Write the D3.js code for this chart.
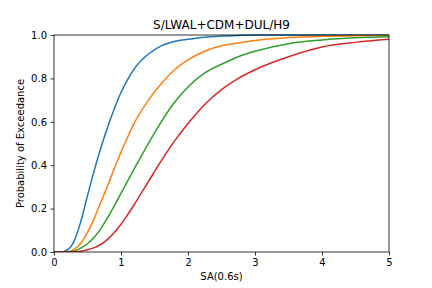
<!DOCTYPE html>
<html>
<head>
<meta charset="utf-8">
<script src="https://cdn.jsdelivr.net/npm/d3@7"></script>
<style>
  body { margin: 0; background: #fff; }
  svg { display: block; font-family: "DejaVu Sans", sans-serif; }
</style>
</head>
<body>
<svg id="chart" width="432" height="288"></svg>
<script>
// SA values (g) at which the curves were read
const sa = [0, 0.1, 0.2, 0.3, 0.4, 0.5, 0.6, 0.7, 0.8, 0.9, 1.0, 1.1, 1.2, 1.4, 1.6, 1.8, 2.0, 2.25, 2.5, 2.75, 3.0, 3.5, 4.0, 4.5, 5.0];

// probability of exceedance, one array per damage state
const ds1 = [0, 0, 0.01, 0.05, 0.14, 0.26, 0.375, 0.48, 0.575, 0.66, 0.735, 0.795, 0.845, 0.91, 0.95, 0.97, 0.98, 0.99, 0.995, 0.998, 1, 1, 1, 1, 1];
const ds2 = [0, 0, 0.001, 0.012, 0.04, 0.09, 0.155, 0.23, 0.305, 0.385, 0.46, 0.53, 0.595, 0.695, 0.775, 0.84, 0.885, 0.925, 0.95, 0.963, 0.975, 0.988, 0.994, 0.997, 0.998];
const ds3 = [0, 0, 0, 0.005, 0.018, 0.038, 0.068, 0.108, 0.158, 0.213, 0.27, 0.328, 0.385, 0.495, 0.6, 0.69, 0.76, 0.825, 0.865, 0.9, 0.925, 0.96, 0.977, 0.987, 0.992];
const ds4 = [0, 0, 0, 0, 0.003, 0.01, 0.02, 0.035, 0.058, 0.09, 0.128, 0.172, 0.22, 0.32, 0.42, 0.512, 0.592, 0.68, 0.748, 0.8, 0.84, 0.9, 0.945, 0.966, 0.98];

const seriesColors = ["#1f77b4", "#ff7f0e", "#2ca02c", "#d62728"];
const xTicks = [0, 1, 2, 3, 4, 5];
const yTicks = [0, 0.2, 0.4, 0.6, 0.8, 1.0];

const margin = { top: 35, right: 43, bottom: 36, left: 54 };
const width = 432, height = 288;

const svg = d3.select("#chart");

const x = d3.scaleLinear().domain([0, 5]).range([margin.left, width - margin.right]);
const y = d3.scaleLinear().domain([0, 1]).range([height - margin.bottom, margin.top]);

// curves
const line = d3.line()
  .x((d, i) => x(sa[i]))
  .y(d => y(d))
  .curve(d3.curveMonotoneX);

const plot = svg.append("g");
plot.append("clipPath").attr("id", "clip")
  .append("rect")
  .attr("x", margin.left).attr("y", margin.top - 1)
  .attr("width", x(5) - x(0)).attr("height", y(0) - y(1) + 1);

[ds1, ds2, ds3, ds4].forEach((vals, k) => {
  plot.append("path")
    .datum(vals)
    .attr("clip-path", "url(#clip)")
    .attr("fill", "none")
    .attr("stroke", seriesColors[k])
    .attr("stroke-width", 1.5)
    .attr("stroke-linejoin", "round")
    .attr("d", line);
});

// axes
const xAxis = svg.append("g")
  .attr("transform", `translate(0,${y(0)})`)
  .call(d3.axisBottom(x).tickValues(xTicks).tickFormat(d3.format("d")).tickSize(3.5).tickPadding(3.5));
const yAxis = svg.append("g")
  .attr("transform", `translate(${x(0)},0)`)
  .call(d3.axisLeft(y).tickValues(yTicks).tickFormat(d3.format(".1f")).tickSize(3.5).tickPadding(3.5));

[xAxis, yAxis].forEach(g => {
  g.select(".domain").remove();
  g.selectAll(".tick line").attr("stroke", "#000").attr("stroke-width", 0.8);
  g.selectAll(".tick text").attr("font-size", 10).attr("fill", "#000")
    .attr("font-family", "DejaVu Sans, sans-serif");
});

// frame
svg.append("rect")
  .attr("x", x(0)).attr("y", y(1))
  .attr("width", x(5) - x(0)).attr("height", y(0) - y(1))
  .attr("fill", "none").attr("stroke", "#000").attr("stroke-width", 0.8);

// labels
svg.append("text")
  .attr("x", (x(0) + x(5)) / 2).attr("y", y(1) - 6)
  .attr("text-anchor", "middle").attr("font-size", 12)
  .text("S/LWAL+CDM+DUL/H9");

svg.append("text")
  .attr("x", (x(0) + x(5)) / 2).attr("y", 280)
  .attr("text-anchor", "middle").attr("font-size", 10)
  .text("SA(0.6s)");

svg.append("text")
  .attr("transform", `translate(24,${(y(0) + y(1)) / 2}) rotate(-90)`)
  .attr("text-anchor", "middle").attr("font-size", 10)
  .text("Probability of Exceedance");
</script>
</body>
</html>
